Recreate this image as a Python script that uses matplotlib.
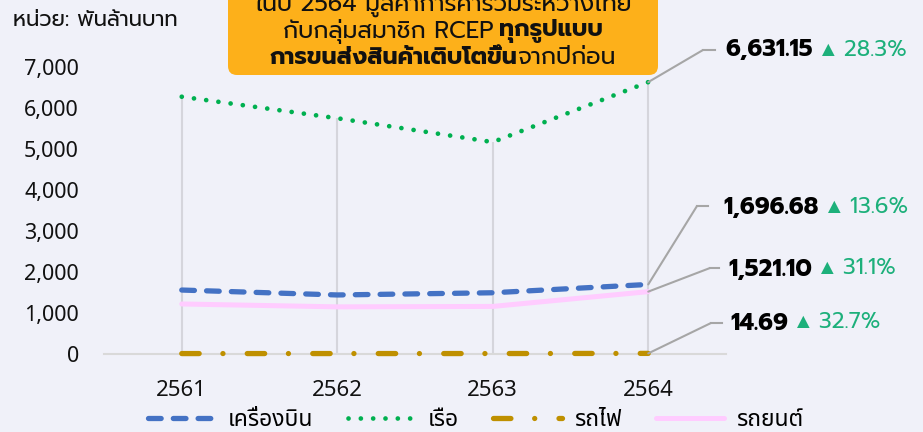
import matplotlib
matplotlib.use('Agg')
import matplotlib.pyplot as plt
from matplotlib import font_manager as fm
from matplotlib.patches import FancyBboxPatch
from matplotlib.lines import Line2D
from matplotlib.transforms import IdentityTransform
from fontTools.ttLib import TTFont

years = ['2561', '2562', '2563', '2564']
air = [1560, 1440, 1493.6, 1696.68]
sea = [6275, 5750, 5168.5, 6631.15]
rail = [10.5, 10.8, 11.07, 14.69]
road = [1220, 1150, 1160.3, 1521.10]
series_names = ['เครื่องบิน', 'เรือ', 'รถไฟ', 'รถยนต์']
last_labels = ['1,696.68', '6,631.15', '14.69', '1,521.10']
growth = ['▲ 13.6%', '▲ 28.3%', '▲ 32.7%', '▲ 31.1%']
yticks = [0, 1000, 2000, 3000, 4000, 5000, 6000, 7000]
unit_label = 'หน่วย: พันล้านบาท'
box_lines = [
    [('ในปี 2564 มูลค่าการค้ารวมระหว่างไทย', 'normal')],
    [('กับกลุ่มสมาชิก RCEP', 'normal'), ('ทุกรูปแบบ', 'bold')],
    [('การขนส่งสินค้าเติบโตขึ้น', 'bold'), ('จากปีก่อน', 'normal')],
]


def thai_fonts():
    found = []
    for f in fm.fontManager.ttflist:
        if f.name in found:
            continue
        try:
            tt = TTFont(f.fname, fontNumber=0, lazy=True)
            cmap = tt.getBestCmap()
            if cmap and 0x0E01 in cmap:
                found.append(f.name)
        except Exception:
            pass
    return found


found = thai_fonts()


def pick(prefs):
    for p in prefs:
        if p in found:
            return p
    return found[0] if found else 'DejaVu Sans'


head_font = pick(['Prompt', 'Kanit', 'Noto Sans Thai'])
plain_font = pick(['Noto Sans Thai', 'Noto Sans Thai UI', 'Sarabun', 'Loma'])
HEAD = [head_font, 'DejaVu Sans']
PLAIN = [plain_font, 'Noto Sans', 'DejaVu Sans']
plt.rcParams['font.family'] = PLAIN

W, H = 923, 432
bg = '#F0F1F9'
green = '#1DB07B'
grey = '#a6a6a6'


def fx(x):
    return x / W


def fy(y):
    return 1 - y / H


fig = plt.figure(figsize=(W / 100, H / 100), dpi=100)
fig.patch.set_facecolor(bg)
ax = fig.add_axes([fx(104), fy(354), (726 - 104) / W, (354 - 67) / H])
ax.set_facecolor('none')
x = list(range(len(years)))

ax.vlines(x, 0, sea, color='#d5d5dc', lw=1.5, zorder=1)
ax.axhline(0, color='#d9d9d9', lw=1.5, zorder=1, clip_on=False)

l_road, = ax.plot(x, road, color='#FFCCFF', lw=3.6, solid_capstyle='round', clip_on=False, zorder=2)
l_air, = ax.plot(x, air, color='#4472C4', lw=3.8, dashes=(2.4, 2.3), dash_capstyle='round', clip_on=False, zorder=3)
l_sea, = ax.plot(x, sea, color='#00B050', lw=3.4, dashes=(0.01, 2.6), dash_capstyle='round', clip_on=False, zorder=3)
l_rail, = ax.plot(x, rail, color='#BF9000', lw=3.8, dashes=(3.3, 4.5, 0.01, 4.6), dash_capstyle='round', clip_on=False, zorder=3)

ax.set_xlim(-0.5, 3.5)
ax.set_ylim(0, 7000)
ax.set_xticks(x, years)
ax.set_yticks(yticks, [f'{v:,}' for v in yticks])
ax.tick_params(length=0, colors='#111111')
ax.tick_params(axis='x', pad=19, labelsize=16)
ax.tick_params(axis='y', pad=18, labelsize=15.5)
for s in ax.spines.values():
    s.set_visible(False)

fig.text(fx(13), fy(20), unit_label, fontsize=15.3, va='center', ha='left', color='#111111', family=HEAD)

# leader lines + end labels
series = [air, sea, rail, road]
layout = [  # elbow x, elbow y, end x, text x, text y  (pixels)
    (697, 206, 708, 723, 208),
    (703, 50, 715, 725, 50),
    (711, 323, 722, 730, 323),
    (710, 268, 719, 728, 269),
]
for vals, lab, g, (ex, ey, hx, tx, ty) in zip(series, last_labels, growth, layout):
    ax.annotate('', xy=(3, vals[-1]), xycoords='data', xytext=(ex, H - ey), textcoords='figure pixels',
                arrowprops=dict(arrowstyle='-', color=grey, lw=1.5, shrinkA=0, shrinkB=0),
                annotation_clip=False)
    fig.add_artist(Line2D([fx(ex), fx(hx)], [fy(ey), fy(ey)], color=grey, lw=1.5, transform=fig.transFigure))
    t1 = fig.text(fx(tx), fy(ty), lab, fontsize=17, fontweight='bold', va='center', ha='left',
                  color='#000000', family=HEAD)
    ax.annotate(g, xy=(1, 0.5), xycoords=t1, xytext=(6, 0), textcoords='offset points',
                va='center', ha='left', color=green, fontsize=16, annotation_clip=False, family=HEAD)

# orange callout
fig.add_artist(FancyBboxPatch((228, H - 75), 430, 110, boxstyle='round,pad=0,rounding_size=9',
                              transform=IdentityTransform(), facecolor='#FDB01A', edgecolor='none'))
renderer = fig.canvas.get_renderer()
cx = 443
for line, ly, gap in zip(box_lines, [4, 31, 58], [0, 6, 0]):
    texts = []
    for txt, wt in line:
        t = fig.text(0, fy(ly), txt, fontsize=17, fontweight=wt, va='center', ha='left',
                     color='#111111', family=HEAD)
        texts.append(t)
    widths = [t.get_window_extent(renderer).width for t in texts]
    total = sum(widths) + gap * (len(texts) - 1)
    start = cx - total / 2
    for t, w in zip(texts, widths):
        t.set_x(fx(start))
        start += w + gap

leg = fig.legend([l_air, l_sea, l_rail, l_road], series_names, loc='center', bbox_to_anchor=(0.515, fy(420)),
                 ncol=4, frameon=False, fontsize=16.5, handlelength=3.0, columnspacing=1.5, handletextpad=0.5)

fig.savefig('out.png', dpi=100, facecolor=bg)
